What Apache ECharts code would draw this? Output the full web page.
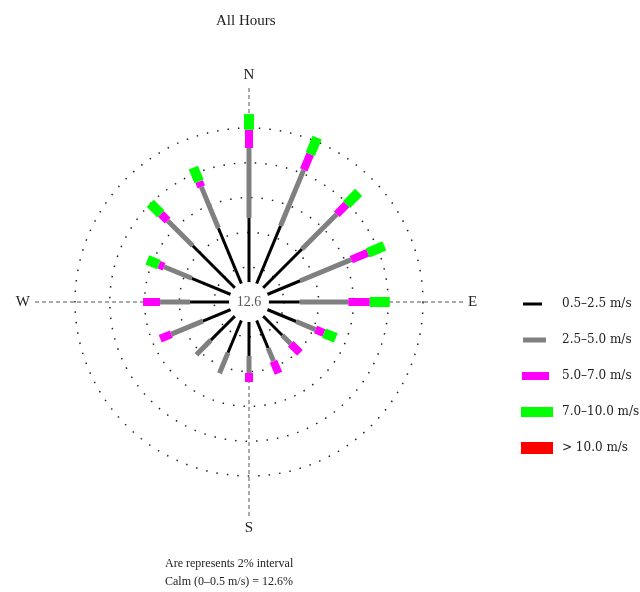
<!DOCTYPE html>
<html>
<head>
<meta charset="utf-8">
<title>All Hours</title>
<script src="https://cdn.jsdelivr.net/npm/echarts@6/dist/echarts.min.js"></script>
<style>
  html, body { margin: 0; padding: 0; background: #fff; }
  #main { width: 640px; height: 592px; }
</style>
</head>
<body>
<div id="main"></div>
<script>
// wind directions, clockwise from north
var directions = ['N', 'NNE', 'NE', 'ENE', 'E', 'ESE', 'SE', 'SSE', 'S', 'SSW', 'SW', 'WSW', 'W', 'WNW', 'NW', 'NNW'];
var speedClasses = ['0.5\u20132.5 m/s', '2.5\u20135.0 m/s', '5.0\u20137.0 m/s', '7.0\u201310.0 m/s', '> 10.0 m/s'];
var calm = 12.6;
var ringTicks = [2, 4, 6, 8, 10];

// frequency (%) for each speed class, per direction
var freq05to25  = [4.83, 4.74, 4.31, 3.19, 2.91, 2.93, 2.70, 2.87, 3.10, 3.16, 3.10, 2.87, 3.39, 3.56, 4.57, 4.60];
var freq25to50  = [4.02, 3.48, 2.82, 3.17, 2.80, 1.21, 0.69, 0.81, 0.98, 1.27, 1.18, 1.96, 1.72, 1.73, 2.04, 2.56];
var freq50to70  = [1.05, 0.98, 0.80, 1.03, 1.23, 0.52, 0.75, 0.75, 0.52, 0.00, 0.00, 0.69, 0.98, 0.32, 0.55, 0.34];
var freq70to100 = [0.90, 1.03, 0.98, 1.03, 1.15, 0.74, 0.00, 0.00, 0.00, 0.00, 0.00, 0.00, 0.00, 0.71, 0.87, 0.86];
var freqOver10  = [0, 0, 0, 0, 0, 0, 0, 0, 0, 0, 0, 0, 0, 0, 0, 0];

var classData = [freq05to25, freq25to50, freq50to70, freq70to100, freqOver10];
var classColors = ['#000000', '#808080', '#ff00ff', '#00ff00', '#ff0000'];
var classWidths = [3, 5, 8, 10, 12];
// legend icons: 36x14 box, bar thickness grows with the class
var anchor = 'M0,0h0.01v0.01h-0.01z M35.99,13.99h0.01v0.01h-0.01z ';
var classIcons = [
  'path://' + anchor + 'M2,5.5h19v3h-19z',
  'path://' + anchor + 'M2,4.5h23v5h-23z',
  'path://' + anchor + 'M1,3h27v8h-27z',
  'path://' + anchor + 'M0,2h32v10h-32z',
  'path://' + anchor + 'M0,1h32v12h-32z'
];
var AXIS_EXT = 12.4;   // how far the dashed compass lines reach (%)
var CALM_R = 20;       // px radius of the calm disc

var serif = '"Liberation Serif", "DejaVu Serif", serif';

// bar segment drawn as a rectangle along its direction
function segment(width) {
  return function (params, api) {
    var r1 = api.value(0), idx = api.value(1), r0 = api.value(2);
    if (!(r1 > r0)) return;
    var a = api.coord([r0, idx]);
    var b = api.coord([r1, idx]);
    var dx = b[0] - a[0], dy = b[1] - a[1];
    var len = Math.sqrt(dx * dx + dy * dy);
    var nx = -dy / len * width / 2, ny = dx / len * width / 2;
    return {
      type: 'polygon',
      shape: { points: [[a[0] + nx, a[1] + ny], [b[0] + nx, b[1] + ny], [b[0] - nx, b[1] - ny], [a[0] - nx, a[1] - ny]] },
      style: { fill: api.visual('color') }
    };
  };
}

// cumulative start/end for each class
var cum = directions.map(function () { return 0; });
var barSeries = classData.map(function (arr, k) {
  var items = arr.map(function (v, i) {
    var start = cum[i];
    cum[i] = start + v;
    return [cum[i], i, start];
  });
  return {
    name: speedClasses[k],
    type: 'custom',
    coordinateSystem: 'polar',
    itemStyle: { color: classColors[k] },
    renderItem: segment(classWidths[k]),
    data: items,
    z: 3,
    silent: true
  };
});

var myChart = echarts.init(document.getElementById('main'));
myChart.setOption({
  backgroundColor: '#fff',
  animation: false,
  title: [
    { text: 'All Hours', left: 211, top: 9,
      textStyle: { fontFamily: serif, fontSize: 15, fontWeight: 'normal', color: '#222' } },
    { text: 'Are represents 2% interval\nCalm (0\u20130.5 m/s) = ' + calm + '%', left: 160, top: 550,
      textStyle: { fontFamily: serif, fontSize: 12, fontWeight: 'normal', color: '#222', lineHeight: 18 } }
  ],
  legend: {
    orient: 'vertical',
    left: 516,
    top: 292,
    itemWidth: 36,
    itemHeight: 14,
    itemGap: 22,
    selectedMode: false,
    textStyle: { fontFamily: '"DejaVu Serif", serif', fontSize: 12, color: '#222' },
    data: speedClasses.map(function (n, k) { return { name: n, icon: classIcons[k] }; })
  },
  polar: { center: [249, 302], radius: 174 },
  angleAxis: {
    type: 'category',
    data: directions,
    startAngle: 90,
    boundaryGap: false,
    axisLine: { show: false },
    axisTick: { show: false },
    splitLine: { show: false },
    axisLabel: { interval: 3, margin: 45, fontFamily: serif, fontSize: 15, color: '#222' }
  },
  radiusAxis: {
    type: 'value',
    min: 0,
    max: ringTicks[ringTicks.length - 1],
    interval: 2,
    axisLine: { show: false },
    axisTick: { show: false },
    axisLabel: { show: false },
    splitLine: { show: false }
  },
  series: [
    {
      // dotted rings, 2% apart
      type: 'custom',
      coordinateSystem: 'polar',
      silent: true,
      z: 0,
      data: ringTicks.map(function (v) { return [v, 0]; }),
      renderItem: function (params, api) {
        var c = api.coord([0, 0]);
        var p = api.coord([api.value(0), 0]);
        var r = Math.sqrt((p[0] - c[0]) * (p[0] - c[0]) + (p[1] - c[1]) * (p[1] - c[1]));
        return {
          type: 'circle',
          shape: { cx: c[0], cy: c[1], r: r },
          style: { fill: null, stroke: '#222', lineWidth: 1.5, lineDash: [1.5, 9] }
        };
      }
    },
    {
      // dashed compass lines
      type: 'custom',
      coordinateSystem: 'polar',
      silent: true,
      z: 1,
      data: [[AXIS_EXT, 0], [AXIS_EXT, 4], [AXIS_EXT, 8], [AXIS_EXT, 12]],
      renderItem: function (params, api) {
        var a = api.coord([0, api.value(1)]);
        var b = api.coord([api.value(0), api.value(1)]);
        return {
          type: 'line',
          shape: { x1: a[0], y1: a[1], x2: b[0], y2: b[1] },
          style: { stroke: '#555', lineWidth: 1, lineDash: [4, 3] }
        };
      }
    }
  ].concat(barSeries).concat([
    {
      type: 'custom',
      coordinateSystem: 'polar',
      silent: true,
      z: 5,
      data: [[0, 0]],
      renderItem: function (params, api) {
        var c = api.coord([0, 0]);
        return {
          type: 'group',
          children: [
            { type: 'circle', shape: { cx: c[0], cy: c[1], r: CALM_R }, style: { fill: '#fff' } },
            { type: 'text', style: { x: c[0], y: c[1], text: String(calm), align: 'center', verticalAlign: 'middle',
              font: '14px ' + serif, fill: '#555' } }
          ]
        };
      }
    }
  ])
});
</script>
</body>
</html>
